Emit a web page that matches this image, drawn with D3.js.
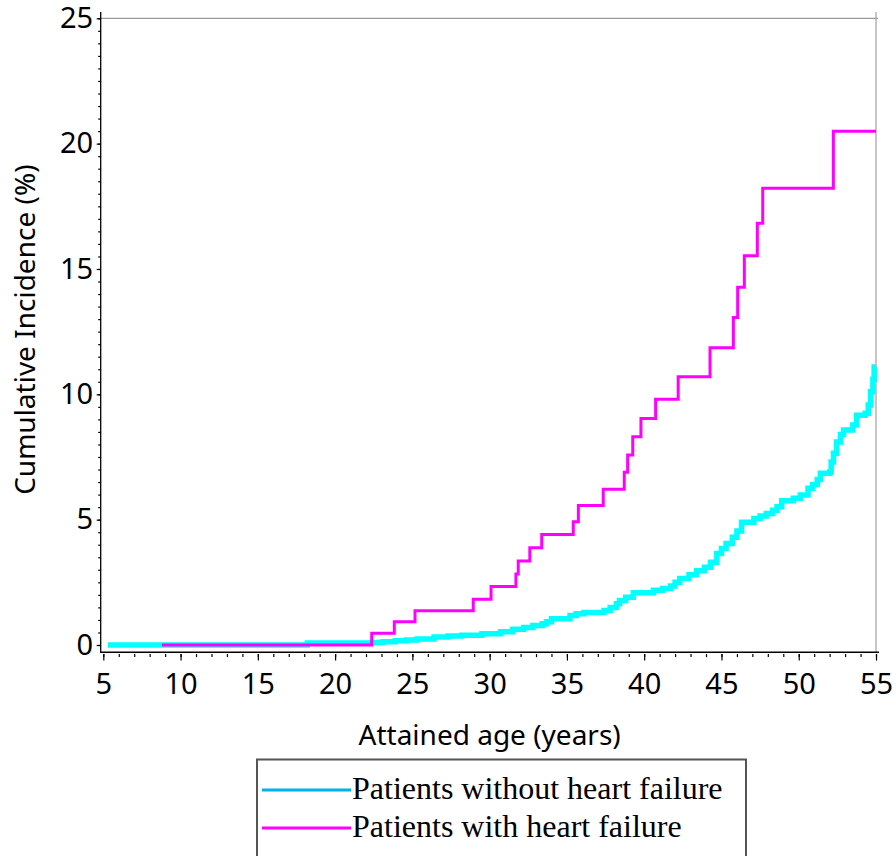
<!DOCTYPE html>
<html>
<head>
<meta charset="utf-8">
<script src="https://cdn.jsdelivr.net/npm/d3@7/dist/d3.min.js"></script>
<style>
  html, body { margin: 0; padding: 0; background: #fff; }
  svg { display: block; }
</style>
</head>
<body>
<svg id="chart" width="896" height="856"></svg>
<script>
// ---- data ----
const xMajorTicks = [5, 10, 15, 20, 25, 30, 35, 40, 45, 50, 55];
const yMajorTicks = [0, 5, 10, 15, 20, 25];
const seriesNames = ["Patients without heart failure", "Patients with heart failure"];

// Patients without heart failure: [age, cumulative incidence %]
const withoutHF = [
  [5.3, 0], [18.2, 0.08], [22.4, 0.1], [23.1, 0.13], [23.9, 0.17], [24.6, 0.2], [25.3, 0.24],
  [26.4, 0.32], [27.3, 0.36], [28.2, 0.39], [29.5, 0.45], [30.7, 0.53], [31.5, 0.63], [32.2, 0.7],
  [32.8, 0.78], [33.4, 0.85], [33.7, 0.93], [34.0, 1.05], [35.2, 1.18], [35.6, 1.25], [36.1, 1.3],
  [37.4, 1.38], [37.8, 1.5], [38.2, 1.65], [38.4, 1.78], [38.8, 1.9], [39.3, 2.08], [40.6, 2.18],
  [41.2, 2.25], [41.7, 2.35], [42.0, 2.5], [42.3, 2.65], [42.9, 2.8], [43.4, 2.96], [43.9, 3.1],
  [44.3, 3.3], [44.7, 3.65], [45.0, 3.85], [45.3, 4.05], [45.7, 4.3], [46.0, 4.55], [46.3, 4.9],
  [47.1, 5.05], [47.5, 5.15], [47.9, 5.25], [48.3, 5.38], [48.6, 5.52], [48.9, 5.75], [49.65, 5.85],
  [50.1, 5.98], [50.6, 6.25], [50.9, 6.4], [51.2, 6.6], [51.4, 6.85], [52.0, 6.9], [52.1, 7.3],
  [52.25, 7.65], [52.45, 8.1], [52.7, 8.4], [52.9, 8.58], [53.5, 8.78], [53.75, 9.17], [54.3, 9.24],
  [54.5, 9.57], [54.65, 10.1], [54.8, 10.6], [54.88, 11.09], [55.0, 11.09]
];

// Patients with heart failure: [age, cumulative incidence %]
const withHF = [
  [8.8, 0], [22.37, 0.47], [23.83, 0.93], [25.17, 1.37], [28.94, 1.83], [30.09, 2.33],
  [31.7, 2.83], [31.85, 3.35], [32.6, 3.88], [33.37, 4.41], [35.41, 4.92], [35.74, 5.56],
  [37.35, 6.21], [38.71, 6.89], [38.93, 7.58], [39.26, 8.31], [39.79, 9.04], [40.74, 9.8],
  [42.2, 10.7], [44.26, 11.86], [45.77, 13.06], [46.05, 14.27], [46.48, 15.53], [47.32, 16.82],
  [47.67, 18.22], [52.24, 20.49], [55.0, 20.49]
];

// ---- drawing ----
const svg = d3.select("#chart");
const x = d3.scaleLinear().domain([5, 55]).range([103.3, 876]);
const y = d3.scaleLinear().domain([0, 25]).range([645, 18.3]);

const axisX0 = 100.7, axisY0 = 652.3, topY = 12, rightX = 876;
const tickFont = "'Noto Sans', 'Open Sans', sans-serif";

// frame (top & right, gray)
svg.append("line").attr("x1", axisX0).attr("x2", 878).attr("y1", y(25)).attr("y2", y(25))
  .attr("stroke", "#9a9a9a").attr("stroke-width", 1.3);
svg.append("line").attr("x1", rightX).attr("x2", rightX).attr("y1", topY).attr("y2", axisY0)
  .attr("stroke", "#a8a8a8").attr("stroke-width", 1.3);

// curves
const line = d3.line().x(d => x(d[0])).y(d => y(d[1])).curve(d3.curveStepAfter);
svg.append("path").datum(withoutHF).attr("d", line)
  .attr("fill", "none").attr("stroke", "#00FFFF").attr("stroke-width", 5.5);
svg.append("path").datum(withHF).attr("d", line)
  .attr("fill", "none").attr("stroke", "#FF00FF").attr("stroke-width", 3);

// y axis
svg.append("line").attr("x1", axisX0).attr("x2", axisX0).attr("y1", topY).attr("y2", axisY0)
  .attr("stroke", "#000").attr("stroke-width", 1.3);
const yMinor = d3.range(0, 25.01, 0.5);
const gyMinor = svg.append("g").attr("transform", `translate(${axisX0},0)`)
  .call(d3.axisLeft(y).tickValues(yMinor).tickSize(2.5).tickFormat(""));
gyMinor.select(".domain").remove();
const gy = svg.append("g").attr("transform", `translate(${axisX0},0)`)
  .call(d3.axisLeft(y).tickValues(yMajorTicks).tickSize(4).tickPadding(3.5).tickFormat(d3.format("d")));
gy.select(".domain").remove();
gy.selectAll("text").attr("font-family", tickFont).attr("font-size", 29).attr("fill", "#000");
svg.selectAll("g line").attr("stroke", "#000").attr("stroke-width", 1.2);

// x axis
svg.append("line").attr("x1", axisX0 - 0.6).attr("x2", 879).attr("y1", axisY0).attr("y2", axisY0)
  .attr("stroke", "#000").attr("stroke-width", 1.5);
const xMinor = d3.range(5, 55.01, 1);
const gxMinor = svg.append("g").attr("transform", `translate(0,${axisY0 + 1.8})`)
  .call(d3.axisBottom(x).tickValues(xMinor).tickSize(3).tickFormat(""));
gxMinor.select(".domain").remove();
const gx = svg.append("g").attr("transform", `translate(0,${axisY0 + 1.8})`)
  .call(d3.axisBottom(x).tickValues(xMajorTicks).tickSize(6.5).tickPadding(12.5).tickFormat(d3.format("d")));
gx.select(".domain").remove();
gx.selectAll("text").attr("font-family", tickFont).attr("font-size", 29).attr("fill", "#000");
gxMinor.selectAll("line").attr("stroke", "#000").attr("stroke-width", 1.2);
gx.selectAll("line").attr("stroke", "#000").attr("stroke-width", 1.2);

// axis titles
svg.append("text").attr("x", (x(5) + x(55)) / 2).attr("y", 745)
  .attr("text-anchor", "middle").attr("font-family", tickFont).attr("font-size", 28)
  .attr("fill", "#000").text("Attained age (years)");
svg.append("text").attr("transform", `translate(35,${(y(0) + y(25)) / 2 - 2}) rotate(-90)`)
  .attr("text-anchor", "middle").attr("font-family", tickFont).attr("font-size", 28)
  .attr("fill", "#000").text("Cumulative Incidence (%)");

// legend
const legendColors = ["#00B0F0", "#FF00FF"];
svg.append("rect").attr("x", 257).attr("y", 759.5).attr("width", 489).attr("height", 120)
  .attr("fill", "none").attr("stroke", "#555").attr("stroke-width", 2);
const lg = svg.append("g");
seriesNames.forEach((name, i) => {
  const ly = 790 + i * 38;
  lg.append("line").attr("x1", 262).attr("x2", 351).attr("y1", ly).attr("y2", ly)
    .attr("stroke", legendColors[i]).attr("stroke-width", 3.2);
  lg.append("text").attr("x", 352).attr("y", ly + 8.5)
    .attr("font-family", "'Liberation Serif', 'Times New Roman', serif").attr("font-size", 32)
    .attr("fill", "#000").text(name);
});
</script>
</body>
</html>
